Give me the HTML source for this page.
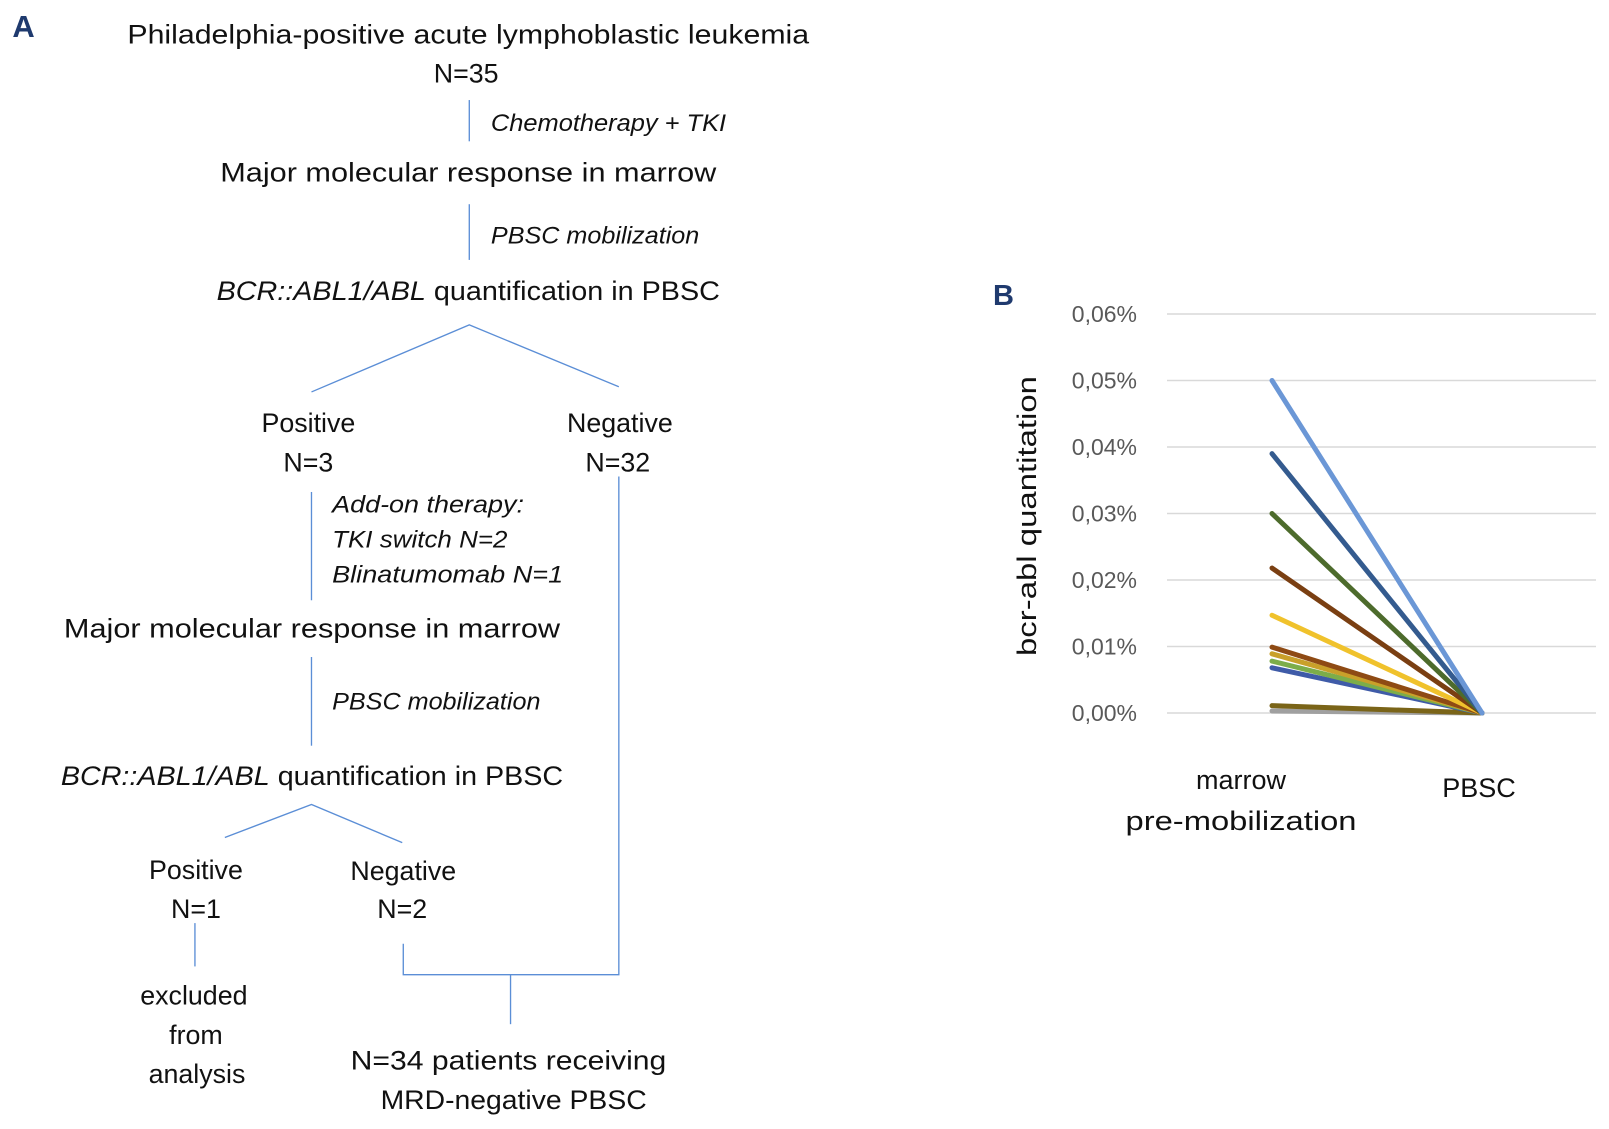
<!DOCTYPE html>
<html><head><meta charset="utf-8"><style>
html,body{margin:0;padding:0;background:#fff}
svg{display:block}
text{font-family:"Liberation Sans",sans-serif;fill:#111}
.t{font-size:26px}
.i{font-size:23px;font-style:italic}
.tick{font-size:23px;fill:#595959}
.ln{stroke:#5b8ed6;stroke-width:1.3;fill:none}
</style></head><body>
<svg id="root" width="1609" height="1129" viewBox="0 0 1609 1129">
<g transform="scale(1.0314)">
<text x="12" y="36" style="font-size:30px;font-weight:bold;fill:#1f3a6e">A</text>
<text class="t" x="454" y="42" text-anchor="middle" textLength="661" lengthAdjust="spacingAndGlyphs">Philadelphia-positive acute lymphoblastic leukemia</text>
<text class="t" x="452" y="80" text-anchor="middle">N=35</text>
<line class="ln" x1="455" y1="97" x2="455" y2="137"/>
<text class="i" x="476" y="127" textLength="228" lengthAdjust="spacingAndGlyphs">Chemotherapy + TKI</text>
<text class="t" x="454" y="176" text-anchor="middle" textLength="481" lengthAdjust="spacingAndGlyphs">Major molecular response in marrow</text>
<line class="ln" x1="455" y1="198" x2="455" y2="252"/>
<text class="i" x="476" y="236" textLength="202" lengthAdjust="spacingAndGlyphs">PBSC mobilization</text>
<text class="t" x="210" y="291" textLength="488" lengthAdjust="spacingAndGlyphs"><tspan font-style="italic">BCR::ABL1/ABL</tspan> quantification in PBSC</text>
<polyline class="ln" points="302,380 455,315 600,375"/>
<text class="t" x="299" y="419" text-anchor="middle">Positive</text>
<text class="t" x="299" y="457" text-anchor="middle">N=3</text>
<text class="t" x="601" y="419" text-anchor="middle">Negative</text>
<text class="t" x="599" y="457" text-anchor="middle">N=32</text>
<line class="ln" x1="302" y1="477" x2="302" y2="582"/>
<text class="i" x="322" y="497" textLength="186" lengthAdjust="spacingAndGlyphs">Add-on therapy:</text>
<text class="i" x="322" y="531" textLength="170" lengthAdjust="spacingAndGlyphs">TKI switch N=2</text>
<text class="i" x="322" y="565" textLength="224" lengthAdjust="spacingAndGlyphs">Blinatumomab N=1</text>
<polyline class="ln" points="600,462 600,945 391,945 391,915"/>
<line class="ln" x1="495" y1="945" x2="495" y2="993"/>
<text class="t" x="62" y="618" textLength="481" lengthAdjust="spacingAndGlyphs">Major molecular response in marrow</text>
<line class="ln" x1="302" y1="637" x2="302" y2="723"/>
<text class="i" x="322" y="688" textLength="202" lengthAdjust="spacingAndGlyphs">PBSC mobilization</text>
<text class="t" x="59" y="761" textLength="487" lengthAdjust="spacingAndGlyphs"><tspan font-style="italic">BCR::ABL1/ABL</tspan> quantification in PBSC</text>
<polyline class="ln" points="218,812 302,780 390,817"/>
<text class="t" x="190" y="852" text-anchor="middle">Positive</text>
<text class="t" x="190" y="890" text-anchor="middle">N=1</text>
<text class="t" x="391" y="853" text-anchor="middle">Negative</text>
<text class="t" x="390" y="890" text-anchor="middle">N=2</text>
<line class="ln" x1="189" y1="895" x2="189" y2="937"/>
<text class="t" x="188" y="974" text-anchor="middle">excluded</text>
<text class="t" x="190" y="1012" text-anchor="middle">from</text>
<text class="t" x="191" y="1050" text-anchor="middle">analysis</text>
<text class="t" x="493" y="1037" text-anchor="middle" textLength="306" lengthAdjust="spacingAndGlyphs">N=34 patients receiving</text>
<text class="t" x="498" y="1075" text-anchor="middle" textLength="258" lengthAdjust="spacingAndGlyphs">MRD-negative PBSC</text>
</g>
<g id="chart">
<text x="993" y="305" style="font-size:29px;font-weight:bold;fill:#1f3a6e">B</text>
<text class="t" transform="translate(1036,516) rotate(-90)" text-anchor="middle" textLength="280" lengthAdjust="spacingAndGlyphs" style="font-size:27px">bcr-abl quantitation</text>
<text class="t" x="1241" y="789" text-anchor="middle" style="font-size:27px">marrow</text>
<text class="t" x="1241" y="830" text-anchor="middle" textLength="231" lengthAdjust="spacingAndGlyphs" style="font-size:27px">pre-mobilization</text>
<text class="t" x="1479" y="797" text-anchor="middle" style="font-size:27px">PBSC</text>
</g>
</svg>
<script>
const ticks=[0,0.0001,0.0002,0.0003,0.0004,0.0005,0.0006];
const tickLabels=["0,00%","0,01%","0,02%","0,03%","0,04%","0,05%","0,06%"];
const categories=["marrow pre-mobilization","PBSC"];
const marrowValues=[0.0005,0.00039,0.0003,0.000218,0.000147,0.000099,0.000089,0.000078,0.000068,0.000011,0.000003];
const pbscValues=[0,0,0,0,0,0,0,0,0,0,0];
const colors=["#6b97d6","#345b8f","#4d6b2c","#7a3f12","#f0c22c","#8e4a14","#c9a02a","#7cad4a","#3f5ba8","#7a6418","#a0a0a0"];
const NS="http://www.w3.org/2000/svg";
const g=document.getElementById("chart");
const y0=713,yTop=314,x0=1167,x1=1596;
const yScale=v=>y0-(v/0.0006)*(y0-yTop);
const xScale=i=>[1272,1482][i];
ticks.forEach((t,i)=>{
 const l=document.createElementNS(NS,"line");
 l.setAttribute("x1",x0);l.setAttribute("x2",x1);
 l.setAttribute("y1",yScale(t));l.setAttribute("y2",yScale(t));
 l.setAttribute("stroke","#d9d9d9");l.setAttribute("stroke-width","1.5");
 
 
 g.appendChild(l);
 const tx=document.createElementNS(NS,"text");
 tx.setAttribute("x",1137);tx.setAttribute("y",yScale(t)+8);
 tx.setAttribute("text-anchor","end");tx.setAttribute("class","tick");
 tx.textContent=tickLabels[i];
 
 
 g.appendChild(tx);
});
for(let k=marrowValues.length-1;k>=0;k--){
 const l=document.createElementNS(NS,"line");
 l.setAttribute("x1",xScale(0));l.setAttribute("y1",yScale(marrowValues[k]));
 l.setAttribute("x2",xScale(1));l.setAttribute("y2",yScale(pbscValues[k]));
 l.setAttribute("stroke",colors[k]);l.setAttribute("stroke-width","5");
 l.setAttribute("stroke-linecap","round");
 
 
 g.appendChild(l);
}
</script>
</body></html>
